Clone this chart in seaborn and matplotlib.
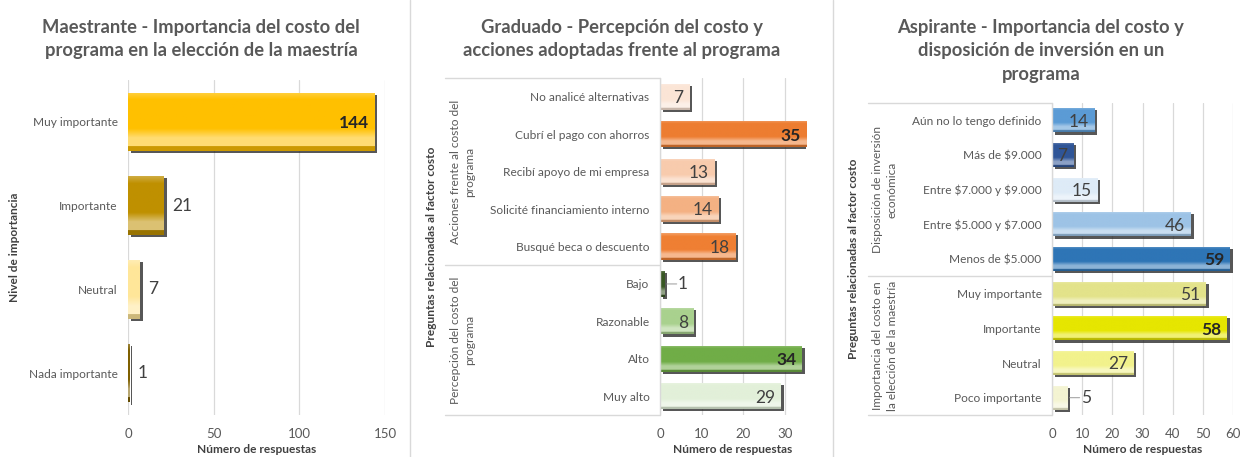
import numpy as np
import pandas as pd
import matplotlib
matplotlib.use("Agg")
import matplotlib.pyplot as plt
import matplotlib.patheffects as pe
from matplotlib.lines import Line2D
from matplotlib.transforms import blended_transform_factory
from matplotlib.colors import to_rgb
import seaborn as sns

# ---------------- data ----------------
p1_title = "Maestrante - Importancia del costo del\nprograma en la elección de la maestría"
p1_cats = ["Muy importante", "Importante", "Neutral", "Nada importante"]
p1_vals = [144, 21, 7, 1]
p1_colors = ["#FFC000", "#BF9000", "#FFE699", "#7F6000"]

p2_title = "Graduado - Percepción del costo y\nacciones adoptadas frente al programa"
p2_cats = ["No analicé alternativas", "Cubrí el pago con ahorros", "Recibí apoyo de mi empresa",
           "Solicité financiamiento interno", "Busqué beca o descuento",
           "Bajo", "Razonable", "Alto", "Muy alto"]
p2_vals = [7, 35, 13, 14, 18, 1, 8, 34, 29]
p2_groups = ["Acciones frente al costo del\nprograma"] * 5 + ["Percepción del costo del\nprograma"] * 4
p2_colors = ["#FBE5D6", "#ED7D31", "#F8CBAD", "#F4B183", "#EF7F33",
             "#385723", "#A9D18E", "#70AD47", "#E2F0D9"]

p3_title = "Aspirante - Importancia del costo y\ndisposición de inversión en un\nprograma"
p3_cats = ["Aún no lo tengo definido", "Más de $9.000", "Entre $7.000 y $9.000",
           "Entre $5.000 y $7.000", "Menos de $5.000",
           "Muy importante", "Importante", "Neutral", "Poco importante"]
p3_vals = [14, 7, 15, 46, 59, 51, 58, 27, 5]
p3_groups = ["Disposición de inversión\neconómica"] * 5 + ["Importancia del costo en\nla elección de la maestría"] * 4
p3_colors = ["#5B9BD5", "#2F5597", "#DEEBF7", "#9DC3E6", "#2E75B6",
             "#E3E38A", "#E6E600", "#F2F28C", "#F4F4D2"]

# label styling (position / weight): "in" = inside end, "out" = outside end, "lead" = outside with leader line
p1_pos = ["in", "out", "out", "out"]
p1_bold = [True, False, False, False]
p2_pos = ["in"] * 5 + ["lead", "in", "in", "in"]
p2_bold = [False, True, False, False, False, False, False, True, False]
p3_pos = ["in"] * 8 + ["lead"]
p3_bold = [False, False, False, False, True, False, True, False, False]

# ---------------- style ----------------
sns.set_theme(style="white")
plt.rcParams["font.family"] = ["Lato", "DejaVu Sans"]
plt.rcParams["text.parse_math"] = False

W, H = 1246, 457
fig = plt.figure(figsize=(W / 100, H / 100), dpi=100)
fig.patch.set_facecolor("white")

GRAY = "#595959"
DARK = "#404040"
GRID = "#D9D9D9"
TICK_FS = 8.6
AXLAB_FS = 8.6


def rect(left, top, right, bottom):
    return [left / W, 1 - bottom / H, (right - left) / W, (bottom - top) / H]


def bevel(ax, color):
    """Add a glossy bevel gradient clipped to each bar."""
    for p, c in zip(ax.patches, color):
        x0, y0 = p.get_x(), p.get_y()
        w, h = p.get_width(), p.get_height()
        base = np.array(to_rgb(c))
        n = 60
        t = np.linspace(0, 1, n)
        mix = np.zeros(n)
        mix[t < 0.12] = 0.25 * (1 - t[t < 0.12] / 0.12)
        m = (t >= 0.62) & (t < 0.78)
        mix[m] = 0.45 * (t[m] - 0.62) / 0.16
        m = (t >= 0.78) & (t < 0.92)
        mix[m] = 0.45
        img = np.empty((n, 1, 3))
        for i in range(n):
            img[i, 0] = base + (1 - base) * mix[i]
        m = t >= 0.92
        img[m, 0] = base * 0.8
        im = ax.imshow(img, extent=(x0, x0 + w, y0 + h, y0), origin="upper",
                       aspect="auto", interpolation="bilinear", zorder=p.get_zorder() + 0.1)
        im.set_clip_path(p)
        p.set_path_effects([pe.SimplePatchShadow(offset=(2, -1.5), shadow_rgbFace="#1f1f1f", alpha=0.75),
                            pe.Normal()])


def draw_panel(ax, cats, vals, colors, xmax, xstep, pos, bold):
    df = pd.DataFrame({"cat": cats, "val": vals})
    sns.barplot(data=df, y="cat", x="val", hue="cat", order=cats, hue_order=cats,
                palette=dict(zip(cats, colors)), orient="h", width=0.7, legend=False,
                ax=ax, saturation=1, linewidth=0)
    ax.set_xlim(0, xmax)
    ax.set_ylim(len(cats) - 0.5, -0.5)
    ax.set_xticks(np.arange(0, xmax + 0.01, xstep))
    ax.grid(axis="x", color=GRID, lw=0.9)
    ax.grid(axis="y", visible=False)
    ax.set_axisbelow(True)
    for s in ax.spines.values():
        s.set_visible(False)
    ax.tick_params(axis="both", length=0, colors=GRAY)
    ax.tick_params(axis="x", labelsize=9.5, pad=9)
    ax.tick_params(axis="y", labelsize=TICK_FS, pad=7.5)
    ax.set_facecolor("none")
    bevel(ax, colors)
    for i, (v, o, b) in enumerate(zip(vals, pos, bold)):
        fw = "bold" if b else "normal"
        if o == "lead":
            ax.annotate("", xy=(v, i), xytext=(9, 0), textcoords="offset points",
                        arrowprops=dict(arrowstyle="-", color="#A6A6A6", lw=0.8,
                                        shrinkA=0, shrinkB=2))
            ax.annotate(str(v), xy=(v, i), xytext=(10, 0), textcoords="offset points",
                        ha="left", va="center", fontsize=12.5, color=DARK, fontweight=fw)
        elif o == "out":
            ax.annotate(str(v), xy=(v, i), xytext=(6, 0), textcoords="offset points",
                        ha="left", va="center", fontsize=12.5, color=DARK, fontweight=fw)
        else:
            ax.annotate(str(v), xy=(v, i), xytext=(-4, -1), textcoords="offset points",
                        ha="right", va="center", fontsize=12.5, color="#262626" if b else DARK,
                        fontweight=fw)
    ax.set_ylabel("")
    ax.set_xlabel("Número de respuestas", fontsize=AXLAB_FS, fontweight="bold", color=DARK)


def group_box(ax, groups, box_left_px, ax_left_px, ax_w_px, label_x_px):
    tr = blended_transform_factory(ax.transAxes, ax.transData)
    xl = (box_left_px - ax_left_px) / ax_w_px
    n = len(groups)
    bounds = [-0.5]
    for i in range(1, n):
        if groups[i] != groups[i - 1]:
            bounds.append(i - 0.5)
    bounds.append(n - 0.5)
    for yb in bounds:
        ax.plot([xl, 0], [yb, yb], transform=tr, color=GRID, lw=1.0, clip_on=False)
    ax.plot([0, 0], [-0.5, n - 0.5], transform=tr, color=GRID, lw=1.0, clip_on=False)
    xt = (label_x_px - ax_left_px) / ax_w_px
    for a, b in zip(bounds[:-1], bounds[1:]):
        name = groups[int(a + 0.5)]
        ax.text(xt, (a + b) / 2, name, transform=tr, rotation=90, ha="center", va="center",
                fontsize=TICK_FS, color=GRAY, multialignment="center", linespacing=1.35)


XLAB_TOP = 444

# ---------------- panel 1 ----------------
L1, T1, R1, B1 = 128, 80, 385, 415
ax1 = fig.add_axes(rect(L1, T1, R1, B1))
draw_panel(ax1, p1_cats, p1_vals, p1_colors, 150, 50, p1_pos, p1_bold)
ax1.set_ylabel("Nivel de importancia", fontsize=AXLAB_FS, fontweight="bold", color=DARK)
ax1.yaxis.set_label_coords((20 - L1) / (R1 - L1), 0.5)
ax1.xaxis.set_label_coords(0.5, -(XLAB_TOP - B1) / (B1 - T1))

# ---------------- panel 2 ----------------
L2, T2, R2, B2 = 660, 78, 806, 415
ax2 = fig.add_axes(rect(L2, T2, R2, B2))
draw_panel(ax2, p2_cats, p2_vals, p2_colors, 35, 10, p2_pos, p2_bold)
group_box(ax2, p2_groups, 445, L2, R2 - L2, 463)
ax2.set_ylabel("Preguntas relacionadas al factor costo", fontsize=AXLAB_FS, fontweight="bold", color=DARK)
ax2.yaxis.set_label_coords((437 - L2) / (R2 - L2), 0.5)
ax2.xaxis.set_label_coords(0.5, -(XLAB_TOP - B2) / (B2 - T2))

# ---------------- panel 3 ----------------
L3, T3, R3, B3 = 1052, 103, 1233, 415
ax3 = fig.add_axes(rect(L3, T3, R3, B3))
draw_panel(ax3, p3_cats, p3_vals, p3_colors, 60, 10, p3_pos, p3_bold)
group_box(ax3, p3_groups, 868, L3, R3 - L3, 885)
ax3.set_ylabel("Preguntas relacionadas al factor costo", fontsize=AXLAB_FS, fontweight="bold", color=DARK)
ax3.yaxis.set_label_coords((859 - L3) / (R3 - L3), 0.5)
ax3.xaxis.set_label_coords(0.5, -(XLAB_TOP - B3) / (B3 - T3))

# ---------------- titles ----------------
for txt, cx in [(p1_title, 201), (p2_title, 622), (p3_title, 1041)]:
    fig.text(cx / W, 1 - 19 / H, txt, ha="center", va="top", fontsize=13.2, fontweight="bold",
             color=GRAY, linespacing=1.45, multialignment="center")

# panel dividers
for x in [410, 833]:
    fig.add_artist(Line2D([x / W, x / W], [0, 1], color=GRID, lw=1.0))

fig.savefig("out.png", dpi=100, facecolor="white")
